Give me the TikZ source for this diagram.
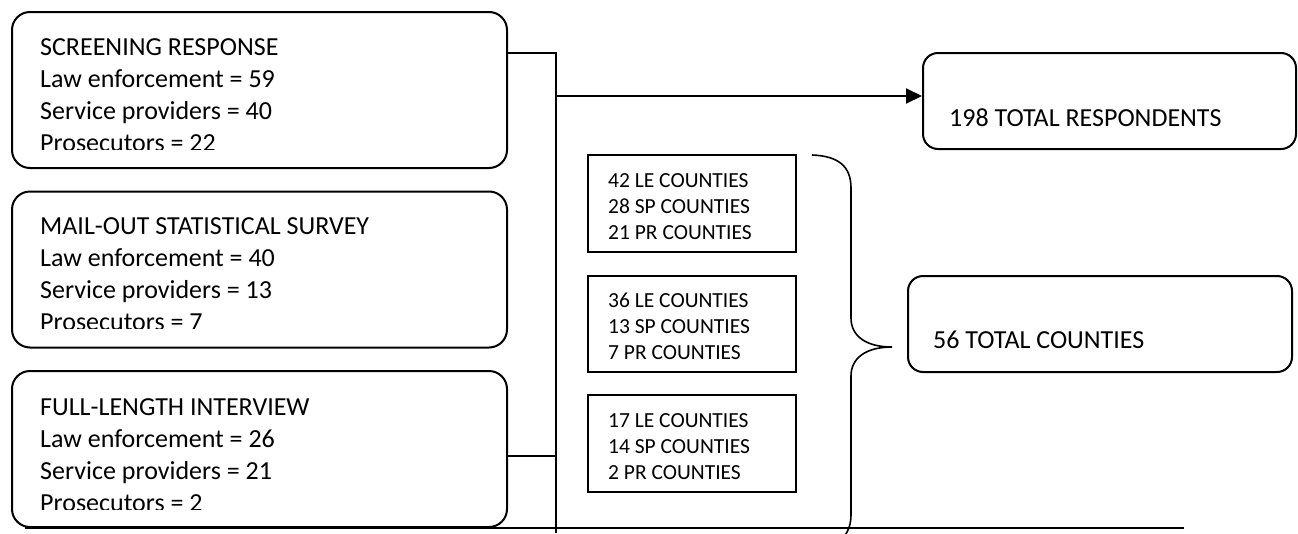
\documentclass[tikz,border=0pt]{standalone}
\usepackage{fontspec}
\setmainfont{Carlito}
\usetikzlibrary{arrows.meta}
\begin{document}
\begin{tikzpicture}[x=1pt,y=-1pt,
  bigbox/.style={draw, line width=2pt, rounded corners=18pt, inner sep=0, minimum width=495pt, minimum height=156pt},
  smallbox/.style={draw, line width=2pt, inner sep=0, minimum width=208pt, minimum height=97pt},
  totalbox/.style={draw, line width=2pt, rounded corners=15pt, inner sep=0, minimum height=96pt},
  bigtxt/.style={anchor=base west, inner sep=0, align=left, font=\fontsize{26}{32}\selectfont},
  smalltxt/.style={anchor=base west, inner sep=0, align=left, font=\fontsize{21.5}{26}\selectfont},
  conn/.style={line width=2pt},
  bracestyle/.style={line width=1.6pt}]
\fill[white] (0,0) rectangle (1298,533);
\useasboundingbox (0,0) rectangle (1298,533);

% left boxes
\node[bigbox] (b1) at (259.5,90) {};
\node[bigbox] (b2) at (259.5,269.5) {};
\node[bigbox] (b3) at (259.5,449) {};
\begin{scope}
  \clip (12,12) rectangle (507,149);
  \node[bigtxt] (t1) at (40,151) {SCREENING RESPONSE\\Law enforcement = 59\\Service providers = 40\\Prosecutors = 22};
\end{scope}
\begin{scope}
  \clip (12,191) rectangle (507,328);
  \node[bigtxt] (t2) at (40,330) {MAIL-OUT STATISTICAL SURVEY\\Law enforcement = 40\\Service providers = 13\\Prosecutors = 7};
\end{scope}
\begin{scope}
  \clip (12,372) rectangle (507,509);
  \node[bigtxt] (t3) at (40,511) {FULL-LENGTH INTERVIEW\\Law enforcement = 26\\Service providers = 21\\Prosecutors = 2};
\end{scope}

% county boxes
\node[smallbox] (sa) at (692,203.5) {};
\node[smallbox, minimum height=96pt] (sb) at (692,324) {};
\node[smallbox] (sc) at (692,443.5) {};
\node[smalltxt] (ta) at (608,239) {42 LE COUNTIES\\28 SP COUNTIES\\21 PR COUNTIES};
\node[smalltxt] (tb) at (608,359) {36 LE COUNTIES\\13 SP COUNTIES\\7 PR COUNTIES};
\node[smalltxt] (tc) at (608,479) {17 LE COUNTIES\\14 SP COUNTIES\\2 PR COUNTIES};

% totals
\node[totalbox, minimum width=373pt] (resp) at (1109.5,101) {};
\node[bigtxt] (tresp) at (949,126) {198 TOTAL RESPONDENTS};
\node[totalbox, minimum width=384pt] (cnty) at (1100,324) {};
\node[bigtxt] (tcnty) at (933,348) {56 TOTAL COUNTIES};

% connectors
\coordinate (vtop) at (556,53);
\coordinate (vbot) at (556,533);
\coordinate (j3) at (556,456);
\coordinate (a0) at (556,96);
\draw[conn] (vtop -| b1.east) -- (vtop) -- (vbot);
\draw[conn] (j3 -| b3.east) -- (j3);
\draw[conn, -{Triangle[length=16pt,width=15pt]}] (a0) -- (a0 -| resp.west);
\coordinate (hl) at (25,528);
\coordinate (hr) at (1184,528);
\draw[conn] (hl) -- (hr);

% brace
\draw[bracestyle] (812,155) .. controls (838,156) and (851,166) .. (851,188)
  -- (851,318) .. controls (851,336) and (866,347) .. (892,347)
  .. controls (866,347) and (851,358) .. (851,376)
  -- (851,515) .. controls (851,528) and (846,536) .. (836,546);
\end{tikzpicture}
\end{document}
